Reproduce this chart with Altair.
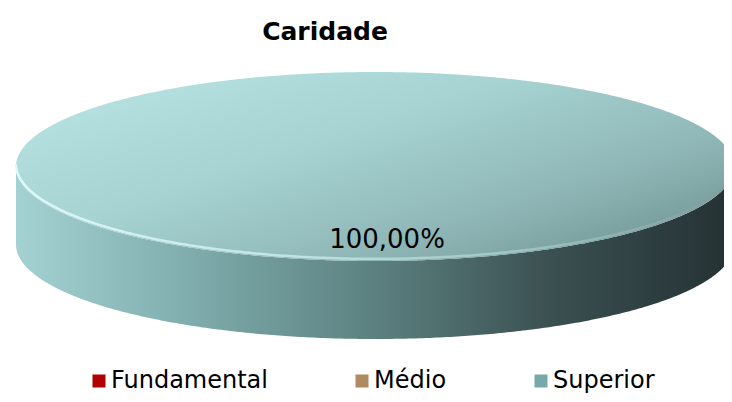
import numpy as np
import pandas as pd
import altair as alt

# ---- data ----
title_text = "Caridade"
categories = ["Fundamental", "Médio", "Superior"]
values = [0.0, 0.0, 100.0]
legend_colors = ["#b00000", "#b08a60", "#78a8a8"]

# ---- 3D pie geometry (style) ----
K = 0.2632      # vertical squash of the tilted disc
DEPTH = 0.2173  # thickness of the disc
X_DOM = [-1.02228, 0.97214]
Y_DOM = [-0.4415, 0.6337]
LABEL_R = 0.86

total = float(sum(values))
starts = np.cumsum([0.0] + values[:-1]) / total * 2 * np.pi
ends = np.cumsum(values) / total * 2 * np.pi

side_rows, top_rows, rim_rows, label_rows = [], [], [], []
for cat, v, a0, a1 in zip(categories, values, starts, ends):
    if v <= 0:
        continue
    # visible front half of the slice's rim (angles clockwise from 12 o'clock)
    lo, hi = max(a0, np.pi / 2), min(a1, 3 * np.pi / 2)
    if hi > lo:
        s = np.linspace(0, np.pi, 500)
        a = lo + (hi - lo) * (1 - np.cos(s)) / 2
        u = np.sin(a)
        front = -K * np.cos(a)
        for ui, fi in zip(u, front):
            side_rows.append({"cat": cat, "u": ui, "top": fi, "bottom": fi + DEPTH})
            top_rows.append({"cat": cat, "u": ui, "back": -fi, "front": fi})
            rim_rows.append({"cat": cat, "u": ui, "rim": fi - 0.006})
    mid = (a0 + a1) / 2
    label_rows.append({
        "cat": cat,
        "u": np.sin(mid) * LABEL_R,
        "v": -np.cos(mid) * K * LABEL_R,
        "txt": f"{v / total * 100:.2f}".replace(".", ",") + "%",
    })

side_df = pd.DataFrame(side_rows)
top_df = pd.DataFrame(top_rows)
rim_df = pd.DataFrame(rim_rows)
label_df = pd.DataFrame(label_rows)
legend_df = pd.DataFrame({"cat": categories, "val": values})

xs = alt.Scale(domain=X_DOM, nice=False, zero=False)
ys = alt.Scale(domain=Y_DOM, nice=False, zero=False, reverse=True)

side_grad = alt.Gradient(
    gradient="linear", x1=0, y1=0, x2=1, y2=0,
    stops=[
        alt.GradientStop(color="#a4d2d2", offset=0),
        alt.GradientStop(color="#7eabab", offset=0.25),
        alt.GradientStop(color="#5c8080", offset=0.5),
        alt.GradientStop(color="#3a4f50", offset=0.75),
        alt.GradientStop(color="#243133", offset=1),
    ],
)
top_grad = alt.Gradient(
    gradient="linear", x1=0, y1=0.1, x2=1, y2=0.9,
    stops=[
        alt.GradientStop(color="#b9e4e4", offset=0),
        alt.GradientStop(color="#a6d2d2", offset=0.4),
        alt.GradientStop(color="#8fb6b6", offset=0.72),
        alt.GradientStop(color="#6e9090", offset=1),
    ],
)
rim_grad = alt.Gradient(
    gradient="linear", x1=0, y1=0, x2=1, y2=0,
    stops=[
        alt.GradientStop(color="#e0f8f8", offset=0),
        alt.GradientStop(color="#c4e6e6", offset=0.35),
        alt.GradientStop(color="#9fc4c4", offset=0.7),
        alt.GradientStop(color="#7c9c9c", offset=1),
    ],
)

side = alt.Chart(side_df).mark_area(color=side_grad, clip=True).encode(
    x=alt.X("u:Q", scale=xs, axis=None),
    y=alt.Y("top:Q", scale=ys, axis=None),
    y2="bottom:Q",
)
top = alt.Chart(top_df).mark_area(color=top_grad, clip=True).encode(
    x=alt.X("u:Q", scale=xs, axis=None),
    y=alt.Y("back:Q", scale=ys, axis=None),
    y2="front:Q",
)
rim = alt.Chart(rim_df).mark_line(color=rim_grad, strokeWidth=2.5, clip=True).encode(
    x=alt.X("u:Q", scale=xs, axis=None),
    y=alt.Y("rim:Q", scale=ys, axis=None),
)
labels = alt.Chart(label_df).mark_text(
    font="DejaVu Sans", fontSize=26, color="black", align="center",
    baseline="alphabetic", dx=12,
).encode(
    x=alt.X("u:Q", scale=xs, axis=None),
    y=alt.Y("v:Q", scale=ys, axis=None),
    text="txt:N",
)
title = alt.Chart(pd.DataFrame({"t": [title_text]})).mark_text(
    font="DejaVu Sans", fontSize=25, fontWeight="bold", color="black",
    align="center", baseline="alphabetic",
).encode(text="t:N", x=alt.value(317), y=alt.value(32))

legend = alt.Chart(legend_df).mark_square(size=0, opacity=0).encode(
    x=alt.value(0), y=alt.value(0),
    color=alt.Color(
        "cat:N",
        scale=alt.Scale(domain=categories, range=legend_colors),
        legend=alt.Legend(
            orient="none", legendX=79, legendY=361, direction="horizontal",
            title=None, symbolType="square", symbolSize=169, symbolOpacity=1,
            symbolStrokeWidth=0, labelFont="DejaVu Sans", labelFontSize=24,
            labelColor="black", labelOffset=0, columnPadding=82, padding=0,
            labelLimit=400,
        ),
    ),
)

chart = alt.layer(side, top, rim, labels, title, legend).properties(
    width=716, height=386, padding=0,
    autosize=alt.AutoSizeParams(type="none"),
    background="white",
).configure_view(strokeWidth=0)

chart.save("out.html", embed_options={"renderer": "svg", "actions": False})
